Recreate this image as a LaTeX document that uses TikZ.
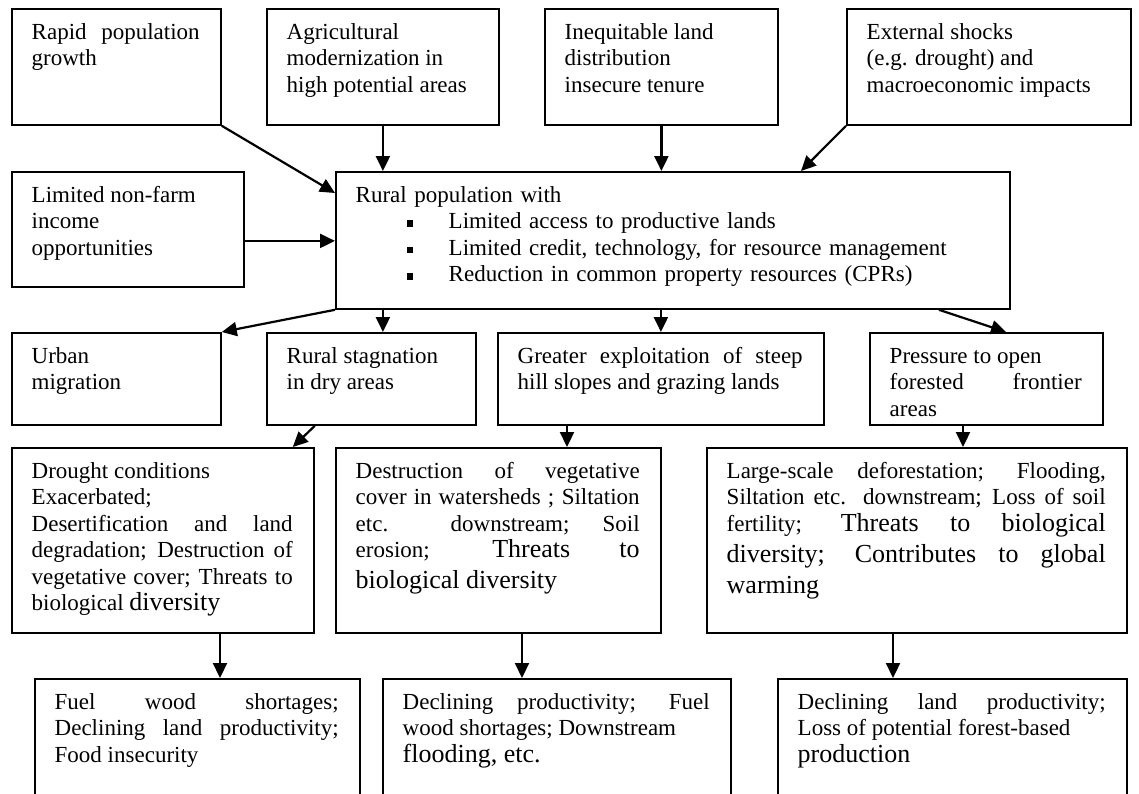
\documentclass[tikz,border=0pt]{standalone}
\usepackage{fontspec}
\setmainfont{Liberation Serif}
\usepackage{tikz}
\usetikzlibrary{calc,arrows.meta}
\tolerance=10000 \hbadness=10000 \hyphenpenalty=10000 \exhyphenpenalty=10000

\tikzstyle{box}=[rectangle, draw=black, line width=1.8pt, inner sep=0pt, anchor=north west]
\tikzstyle{annot}=[inner sep=0pt, anchor=north west, align=justify, font=\fontsize{23}{26.5}\selectfont]
\tikzstyle{arr}=[line width=2.2pt, -{Triangle[length=15pt,width=14pt]}]
\newcommand{\bigt}[1]{{\fontsize{26}{30}\selectfont\strut #1}}
\newcommand{\sqbul}{\hspace*{51pt}\raisebox{2pt}{\rule{6.5pt}{6.5pt}}\hspace{35.5pt}}
\newcommand{\drawbox}[6]
{
  \node[box, minimum width=#4pt, minimum height=#5pt](#1) at (#2,#3){};
  \pgfmathsetmacro{\tw}{#4-41}
  \node[annot, text width=\tw pt](#1t) at ($(#1.north west)+(20.5,12.5)$) {\strut #6};
}

\begin{document}
\begin{tikzpicture}[x=1pt, y=-1pt]
	\useasboundingbox[fill=white] (0,0) rectangle (1139,793);

	% driving forces
	\drawbox{A}{11}{8}{209}{116}{Rapid population\linebreak growth}
	\drawbox{B}{266}{8}{232}{116}{Agricultural\\ modernization in\\ high potential areas}
	\drawbox{C}{544}{8}{233}{116}{Inequitable land\\ distribution\\ insecure tenure}
	\drawbox{D}{846}{8}{284}{116}{External shocks\\ (e.g. drought) and\\ macroeconomic impacts}
	\drawbox{E}{11}{171}{232}{115}{Limited non-farm\\ income\\ opportunities}

	\node[box, minimum width=674pt, minimum height=137pt](R) at (335,171){};
	\node[annot, align=left, text width=633pt](Rt) at ($(R.north west)+(20.5,12.5)$) {\strut Rural population with\\
		\sqbul Limited access to productive lands\\
		\sqbul Limited credit, technology, for resource management\\
		\sqbul Reduction in common property resources (CPRs)};

	% responses
	\drawbox{U}{11}{332}{209}{92}{Urban\\ migration}
	\drawbox{S}{266}{332}{209}{92}{Rural stagnation\\ in dry areas}
	\drawbox{G}{497}{332}{326}{92}{Greater exploitation of steep\linebreak hill slopes and grazing lands}
	\drawbox{P}{869}{332}{233}{92}{Pressure to open\\ forested frontier\linebreak areas}

	% impacts
	\drawbox{Dr}{11}{447}{302}{185}{Drought conditions\\ Exacerbated;\\ Desertification and land\linebreak degradation; Destruction of\linebreak vegetative cover; Threats to\linebreak biological \bigt{diversity}}
	\drawbox{De}{335}{447}{325}{185}{Destruction of vegetative\linebreak cover in watersheds ; Siltation\linebreak etc. downstream; Soil\linebreak erosion; \bigt{Threats to}\linebreak \bigt{biological diversity}}
	\drawbox{L}{706}{447}{420}{185}{Large-scale deforestation; Flooding,\linebreak Siltation etc. downstream; Loss of soil\linebreak fertility; \bigt{Threats to biological}\linebreak \bigt{diversity; Contributes to global}\linebreak \bigt{warming}}

	\drawbox{F}{34}{678}{325}{150}{Fuel wood shortages;\linebreak Declining land productivity;\linebreak Food insecurity}
	\drawbox{Dp}{382}{678}{348}{150}{Declining productivity; Fuel\linebreak wood shortages; Downstream\\ \bigt{flooding, etc.}}
	\drawbox{Dl}{777}{678}{349}{150}{Declining land productivity;\linebreak Loss of potential forest-based\\ \bigt{production}}

	% arrows
	\coordinate (r1) at ($(R.north west)+(0,22)$);
	\coordinate (r2) at ($(R.north west)+(466,0)$);
	\coordinate (e1) at ($(E.east)+(0,11.5)$);
	\coordinate (r3) at ($(R.south west)+(604,0)$);
	\coordinate (p1) at ($(P.north west)+(137,0)$);
	\coordinate (dr1) at ($(Dr.north east)+(-22,0)$);
	\coordinate (g1) at ($(G.south west)+(70,0)$);
	\coordinate (p2) at ($(P.south west)+(94,0)$);
	\coordinate (dr2) at ($(Dr.south west)+(209,0)$);
	\coordinate (de1) at ($(De.south west)+(187,0)$);
	\coordinate (l1) at ($(L.south west)+(187,0)$);

	\draw[arr] (A.south east) -- (r1);
	\draw[arr] (B.south) -- (B.south |- R.north);
	\draw[arr] (C.south) -- (C.south |- R.north);
	\draw[arr] (D.south west) -- (r2);
	\draw[arr] (e1) -- (e1 -| R.west);

	\draw[arr] (R.south west) -- (U.north east);
	\draw[arr] (B.south |- R.south) -- (B.south |- S.north);
	\draw[arr] (G.north |- R.south) -- (G.north);
	\draw[arr] (r3) -- (p1);

	\draw[arr] (Dr.north east |- S.south) -- (dr1);
	\draw[arr] (g1) -- (g1 |- De.north);
	\draw[arr] (p2) -- (p2 |- L.north);

	\draw[arr] (dr2) -- (dr2 |- F.north);
	\draw[arr] (de1) -- (de1 |- Dp.north);
	\draw[arr] (l1) -- (l1 |- Dl.north);
\end{tikzpicture}
\end{document}
